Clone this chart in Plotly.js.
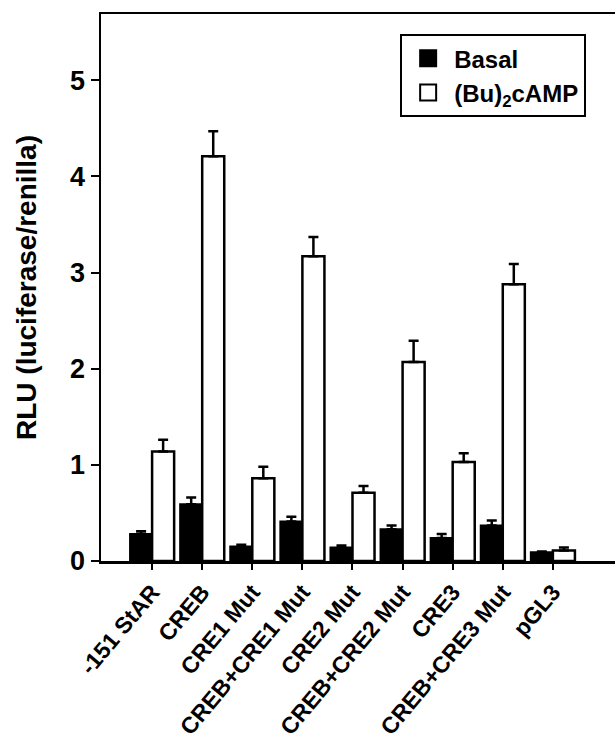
<!DOCTYPE html>
<html>
<head>
<meta charset="utf-8">
<script src="https://cdn.plot.ly/plotly-3.0.1.min.js"></script>
<style>
  html, body { margin: 0; padding: 0; background: #fff; }
  #chart { width: 615px; height: 741px; }
</style>
</head>
<body>
<div id="chart"></div>
<script>
// ---- data ----
const categories = ['-151 StAR', 'CREB', 'CRE1 Mut', 'CREB+CRE1 Mut', 'CRE2 Mut',
                    'CREB+CRE2 Mut', 'CRE3', 'CREB+CRE3 Mut', 'pGL3'];
const basalValues = [0.28, 0.59, 0.15, 0.41, 0.14, 0.33, 0.24, 0.37, 0.09];
const basalErrors = [0.03, 0.07, 0.02, 0.05, 0.02, 0.04, 0.04, 0.05, 0.01];
const campValues  = [1.14, 4.21, 0.86, 3.17, 0.71, 2.07, 1.03, 2.88, 0.11];
const campErrors  = [0.12, 0.26, 0.12, 0.20, 0.07, 0.22, 0.09, 0.21, 0.03];
const seriesNames = ['Basal', '(Bu)<sub>2</sub>cAMP'];
const seriesFills = ['#000', '#fff'];
const yTicks = [0, 1, 2, 3, 4, 5];

const FONT = 'Liberation Sans, Arial, Helvetica, sans-serif';
const zeros = categories.map(() => 0);

const traces = [
  {
    type: 'bar', name: seriesNames[0], x: categories, y: basalValues, showlegend: false,
    marker: { color: seriesFills[0], line: { color: '#000', width: 2 } },
    error_y: { type: 'data', symmetric: false, array: basalErrors, arrayminus: zeros,
               color: '#000', thickness: 2.5, width: 5 }
  },
  {
    type: 'bar', name: seriesNames[1], x: categories, y: campValues, showlegend: false,
    marker: { color: seriesFills[1], line: { color: '#000', width: 2.5 } },
    error_y: { type: 'data', symmetric: false, array: campErrors, arrayminus: zeros,
               color: '#000', thickness: 2.5, width: 5 }
  }
];
// legend-only entries (larger square swatches, like the reference key)
seriesNames.forEach((nm, i) => {
  traces.push({
    type: 'scatter', mode: 'markers', name: nm, x: [null], y: [null],
    marker: { symbol: 'square', size: 16, color: seriesFills[i], line: { color: '#000', width: 2 } },
    hoverinfo: 'skip'
  });
});

const layout = {
  width: 615, height: 741,
  margin: { l: 101, r: 0, t: 14, b: 180 },
  paper_bgcolor: '#fff', plot_bgcolor: '#fff',
  barmode: 'group', bargap: 0.12, bargroupgap: 0,
  font: { family: FONT, color: '#000', weight: 'bold' },
  showlegend: true,
  legend: {
    x: 0.582, y: 0.963, xanchor: 'left', yanchor: 'top',
    bordercolor: '#000', borderwidth: 2, bgcolor: '#fff',
    font: { family: FONT, size: 24, color: '#000', weight: 'bold' },
    traceorder: 'normal', itemwidth: 42, itemsizing: 'trace'
  },
  xaxis: {
    type: 'category', range: [-1.02, 9.24],
    showline: true, linecolor: '#000', linewidth: 2.5, mirror: true,
    ticks: 'outside', ticklen: 6, tickwidth: 2, tickcolor: '#000',
    tickangle: -50, showgrid: false, zeroline: false,
    tickfont: { family: FONT, size: 23, color: '#000', weight: 'bold' }
  },
  yaxis: {
    range: [0, 5.69], tickvals: yTicks, ticktext: yTicks.map(String),
    showline: true, linecolor: '#000', linewidth: 2.5,
    ticks: 'outside', ticklen: 8, tickwidth: 2, tickcolor: '#000',
    showgrid: false, zeroline: false,
    tickfont: { family: FONT, size: 27, color: '#000', weight: 'bold' },
    title: { text: 'RLU (luciferase/renilla)', standoff: 26,
             font: { family: FONT, size: 28, color: '#000', weight: 'bold' } }
  }
};

Plotly.newPlot('chart', traces, layout, { displayModeBar: false, staticPlot: true });
</script>
</body>
</html>
